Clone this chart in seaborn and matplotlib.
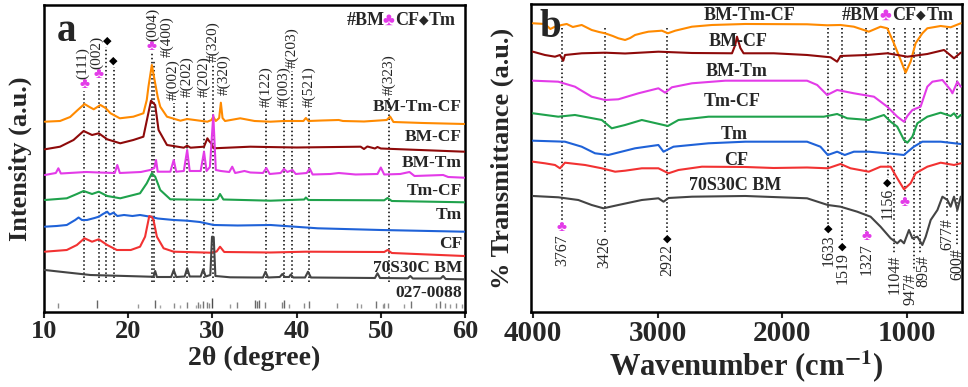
import pandas as pd
import seaborn as sns
import matplotlib.pyplot as plt

### XRD data (panel a), intensities are stacked a.u.
tt_bmtmcf = [10.1, 11.9, 13.1, 14.0, 14.8, 15.4, 15.9, 16.7, 17.3, 17.9, 19.0, 20.6, 21.8, 22.2, 22.4, 22.8,
             23.2, 23.5, 23.8, 24.6, 26.2, 27.0, 29.4, 29.9, 30.1, 30.4, 30.8, 31.0, 31.2, 31.5, 33.3, 35.0,
             36.9, 38.5, 40.8, 41.1, 41.4, 43.0, 45.0, 45.5, 48.0, 50.7, 51.1, 51.5, 55.0, 59.9]
i_bmtmcf = [190.3, 191, 195, 202, 208, 205, 202.7, 207, 204, 198.7, 193.7, 195.3, 198.7, 212, 225.3, 247,
            228.7, 215, 205.3, 195.3, 191.3, 193, 190.3, 192, 195.3, 191, 194, 209.3, 194, 191, 193.7, 191,
            190.3, 191, 191, 194, 191, 191.5, 192, 191, 190.5, 192, 195.5, 190, 189, 188]

tt_bmcf = [10.1, 11.9, 13.5, 14.7, 15.7, 16.5, 17.5, 19.05, 20.6, 21.8, 22.3, 22.7, 23.2, 23.6, 24.6, 26.6,
           27.0, 27.4, 29.0, 29.4, 29.6, 29.85, 30.15, 34.5, 36.4, 40.0, 47.6, 48.0, 48.4, 49.3, 49.6, 50.0, 59.9]
i_bmcf = [162.7, 165.3, 172, 181, 177, 178.7, 172.7, 168.7, 172, 175.3, 195.3, 211.3, 207, 182, 167, 164.3,
          166.3, 164.3, 165.3, 173.7, 171, 168.7, 163.7, 165.3, 165, 164.5, 165.3, 163, 165.5, 163.5, 165, 163.5, 160.3]

tt_bmtm = [10.1, 11.4, 11.7, 12.0, 13.0, 15.0, 16.5, 18.4, 18.7, 19.0, 21.5, 22.6, 23.1, 23.3, 23.5, 25.0,
           25.4, 25.7, 26.6, 27.0, 27.3, 28.6, 29.0, 29.3, 29.7, 30.1, 30.4, 31.0, 32.0, 32.35, 32.7, 33.8,
           34.5, 36.0, 36.4, 36.8, 38.1, 38.5, 38.9, 39.5, 39.9, 41.2, 41.55, 41.9, 44.0, 45.0, 47.0, 49.6,
           50.0, 50.4, 52.3, 53.4, 54.0, 57.4, 58.0, 59.9]
i_bmtm = [137, 139, 143.7, 138.5, 139, 140, 139.5, 139, 147, 139, 140, 142, 144, 152, 140.3, 140.3,
          152, 140.3, 141, 162, 141, 141, 160.3, 141, 145, 197, 142, 141, 140, 145.3, 139, 141,
          139.5, 139, 144, 138, 139, 143, 140, 142, 138, 139, 143.5, 137.5, 138, 139, 137.5, 138,
          144.5, 137.5, 138, 140, 136, 137, 135, 134.3]

tt_tmcf = [10.1, 12.7, 13.9, 14.7, 15.7, 16.5, 17.5, 19.05, 21.4, 22.2, 22.8, 23.2, 23.8, 25.0, 30.15, 30.6,
           30.9, 31.3, 36.9, 40.9, 41.1, 41.4, 50.4, 50.8, 51.3, 59.9]
i_tmcf = [112, 113.7, 118, 121, 118, 120.3, 116, 113.7, 118.7, 128.7, 138.7, 135.3, 122, 112.7, 112, 113,
          118, 112.5, 111.3, 112.5, 114.5, 112, 111.7, 114, 111, 109.7]

tt_tm = [10.1, 11.5, 12.7, 13.7, 14.1, 14.5, 15.1, 16.0, 16.5, 17.0, 17.5, 17.8, 18.25, 18.7, 19.5, 20.5,
         21.4, 22.6, 23.5, 25.4, 27.0, 28.5, 30.15, 33.0, 36.9, 42.5, 50.0, 59.9]
i_tm = [85.3, 86, 87, 92, 94.5, 92, 92, 94, 95.3, 98, 100.3, 97.5, 99.3, 96, 97, 96,
        97, 95.3, 93.5, 92, 91.3, 90, 87, 86.5, 87, 83.7, 82, 80.3]

tt_cf = [10.1, 12.7, 13.9, 14.8, 15.7, 16.5, 17.5, 18.65, 20.3, 21.4, 22.0, 22.5, 22.8, 23.0, 23.4, 24.2,
         25.4, 29.8, 30.5, 30.9, 31.4, 36.9, 41.1, 50.4, 50.8, 51.3, 59.9]
i_cf = [60.3, 62, 67, 73.7, 70.3, 72.7, 67, 62, 62, 65.3, 75.3, 96, 95, 92, 75.3, 63.7,
        60.3, 59.3, 60.5, 65.3, 60, 59.5, 60.3, 60, 62, 59, 56]

tt_bm = [10.1, 11.9, 15.5, 22.6, 23.0, 23.2, 23.4, 25.1, 25.4, 25.7, 26.7, 27.0, 27.3, 28.6, 28.9, 29.2,
         29.75, 29.95, 30.15, 30.35, 32.1, 35.0, 36.0, 36.3, 36.6, 38.0, 38.3, 38.6, 39.1, 39.3, 39.6, 41.0,
         41.35, 41.7, 49.3, 49.6, 49.9, 53.2, 53.5, 53.8, 57.1, 57.4, 57.7, 59.9]
i_bm = [42, 40.3, 37, 35.3, 35.5, 41, 35, 35, 42, 35, 35.5, 43.7, 35.5, 35.5, 42.7, 35.5,
        37, 75.3, 75, 36, 34.7, 34.5, 34.5, 40.3, 34.5, 35, 38, 35, 35, 37.5, 34.5, 34.5,
        40.3, 34.5, 34, 38.7, 34, 33.7, 36, 33.5, 33.5, 36, 33, 32.7]

# PDF 027-0088 reference lines
ref_pos = [11.6, 16.3, 21.2, 23.2, 23.8, 25.4, 26.2, 27.0, 28.0, 28.3, 28.5, 28.9, 29.3, 29.6, 30.0, 32.1,
           32.9, 35.1, 35.3, 35.5, 36.3, 38.3, 38.5, 39.1, 40.9, 41.5, 44.8, 47.2, 47.6, 49.4, 50.2, 50.4,
           50.8, 52.8, 53.6, 56.5, 57.0, 57.6, 58.2, 58.9, 59.6]
ref_int = [0.5, 0.8, 0.4, 0.8, 0.3, 0.5, 0.3, 0.6, 0.3, 0.6, 0.4, 0.7, 0.6, 0.5, 1.0, 0.4,
           0.6, 0.8, 0.7, 0.8, 0.6, 0.6, 0.8, 0.4, 0.5, 0.7, 0.5, 0.5, 0.4, 0.7, 0.4, 0.5,
           0.5, 0.4, 0.7, 0.5, 0.7, 0.5, 0.4, 0.5, 0.4]

# XRD peak assignments (y: marker centre for CF/Tm, label bottom for BM)
xrd_peak_pos = [14.8, 16.5, 17.4, 18.25, 22.8, 23.1, 25.4, 27.0, 29.0, 30.1, 31.1, 36.4, 38.5, 39.5, 41.5, 51.0]
xrd_peak_labx = [14.6, 16.2, 17.5, 18.25, 22.9, 24.6, 25.3, 27.0, 29.0, 30.1, 31.4, 36.4, 38.5, 39.5, 41.5, 51.0]
xrd_peak_phase = ['CF', 'CF', 'Tm', 'Tm', 'CF', 'BM', 'BM', 'BM', 'BM', 'BM', 'BM', 'BM', 'BM', 'BM', 'BM', 'BM']
xrd_peak_hkl = ['(111)', '(002)', '', '', '(004)', '(400)', '(002)', '(202)', '(202)', '(320)', '(320)',
                '(122)', '(003)', '(203)', '(521)', '(323)']
xrd_peak_y = [227, 237, 271, 251, 265, 255, 212, 215, 215, 250, 217, 205, 205, 244, 205, 217]
xrd_peak_line = [1, 1, 1, 1, 1, 1, 1, 1, 1, 1, 0, 1, 1, 1, 1, 1]

### FTIR data (panel b)
wn_bmtmcf = [4000, 3904, 3860, 3823, 3769, 3729, 3680, 3609, 3529, 3470, 3422, 3360, 3315, 3261, 3220, 3181,
             3120, 3074, 2966, 2918, 2859, 2725, 2565, 2297, 1802, 1641, 1534, 1427, 1307, 1213, 1159, 1106,
             1052, 1012, 972, 932, 878, 838, 731, 651, 570]
t_bmtmcf = [288.7, 288, 283, 285.3, 287, 288, 285, 287, 282, 280, 278.7, 276, 273.7, 272, 274, 277,
            279, 280.3, 281.3, 278.7, 281.3, 285.3, 287, 288, 287.7, 286.7, 287, 285.3, 280.3, 285.3, 283.7, 268.7,
            252, 239.3, 250.3, 268.7, 278.7, 283.7, 286, 284.7, 288.7]

wn_bmcf = [4000, 3904, 3823, 3783, 3757, 3743, 3609, 3422, 3261, 2994, 2725, 2404, 2378, 2364, 2337, 2311,
           2070, 1802, 1614, 1561, 1534, 1320, 1159, 998, 838, 704, 624, 570]
t_bmcf = [260.3, 257, 255.3, 257, 251.3, 257, 258.7, 259.3, 258.5, 260.3, 259, 258.7, 267, 275.3, 264, 258.7,
          258.7, 257, 254.7, 250.3, 256, 257, 258.7, 255.3, 258, 262, 253.7, 259.3]

wn_bmtm = [4000, 3797, 3663, 3529, 3422, 3315, 3154, 2994, 2940, 2886, 2725, 2458, 2337, 1802, 1721, 1641,
           1561, 1427, 1266, 1159, 1079, 1025, 998, 958, 892, 838, 797, 717, 651, 637, 597, 570]
t_bmtm = [231.3, 230.3, 225.3, 215.3, 212, 212.7, 218.7, 223.7, 219.3, 224.7, 228.7, 231.3, 231.3, 231.3, 227, 217,
          222, 218.7, 215.3, 205.3, 195.3, 190.3, 196, 202, 205.3, 225.3, 230.3, 232, 222, 218.7, 230.3, 225.3]

wn_tmcf = [4000, 3797, 3663, 3448, 3368, 3261, 3127, 2918, 2833, 2592, 2297, 1668, 1561, 1480, 1307, 1186,
           1132, 1079, 1025, 998, 958, 918, 838, 731, 651, 624, 597, 570]
t_tmcf = [198.7, 195.3, 197, 192, 183.7, 187, 192, 186, 192, 195.3, 195.3, 195.3, 198, 193.7, 192, 197,
          190.3, 185.3, 172, 169.3, 175.3, 188.7, 195.3, 199.3, 196, 198.7, 194, 197]

wn_tm = [4000, 3743, 3609, 3502, 3395, 3181, 2994, 2953, 2873, 2592, 2297, 1802, 1695, 1636, 1561, 1500,
         1427, 1307, 1159, 1025, 998, 946, 878, 731, 570]
t_tm = [171.3, 170.3, 165.3, 158.7, 157, 163.7, 167, 160.3, 165.3, 168.7, 170.3, 170.3, 165.3, 157, 160.3, 157,
        160.3, 160.3, 158.7, 157, 160, 165.3, 170.3, 170.3, 168]

wn_cf = [4000, 3904, 3823, 3783, 3743, 3582, 3448, 3341, 3261, 3127, 2994, 2913, 2833, 2645, 2297, 2070,
         1802, 1636, 1534, 1454, 1307, 1213, 1132, 1079, 1025, 972, 932, 838, 731, 624, 570]
t_cf = [150.3, 148.7, 147, 143.7, 149.3, 147, 143.7, 140.3, 141.3, 143.7, 143.7, 138.7, 142, 145.3, 145, 144,
        144.5, 143.7, 148, 143.7, 140.3, 145.3, 145.3, 133.7, 122.7, 128.7, 138.7, 145.3, 149.3, 147, 148.7]

wn_bm = [4000, 3797, 3636, 3529, 3435, 3315, 3127, 2994, 2953, 2913, 2725, 2297, 1802, 1636, 1534, 1400,
         1293, 1213, 1132, 1079, 1052, 1025, 985, 958, 918, 878, 851, 811, 757, 717, 677, 651, 624, 597, 570]
t_bm = [116, 114.7, 112, 107, 103.7, 107, 112, 113.7, 110.3, 114, 115.3, 116, 113.7, 107, 105.3, 100.3,
        95.3, 85.3, 73.7, 68.7, 72, 68.7, 82, 73.7, 75.3, 67, 75.3, 92, 102, 115.3, 112, 105.3, 115.3, 102, 115.3]

# FTIR band assignments (y: marker centre for CF/Tm, label top otherwise)
ftir_band_wn = [3767, 3426, 2922, 1633, 1519, 1327, 1156, 1104, 947, 895, 677, 600, 1020]
ftir_band_labx = [3767, 3426, 2922, 1633, 1519, 1327, 1156, 1104, 972, 868, 677, 600, 1020]
ftir_band_phase = ['CF', '', 'Tm', 'Tm', 'Tm', 'CF', 'Tm', 'BM', 'BM', 'BM', 'BM', 'BM', 'CF']
ftir_band_text = ['3767', '3426', '2922', '1633', '1519', '1327', '1156', '1104', '947', '895', '677', '600', '']
ftir_band_y = [84, 76, 73, 83, 65, 75, 129, 57, 39, 57, 94, 64, 109]

samples = ['BM-Tm-CF', 'BM-CF', 'BM-Tm', 'Tm-CF', 'Tm', 'CF', '70S30C BM']
palette = {'BM-Tm-CF': '#FF8A00', 'BM-CF': '#8E0A0A', 'BM-Tm': '#E33BE8', 'Tm-CF': '#1FA24C',
           'Tm': '#1F62D8', 'CF': '#F23232', '70S30C BM': '#444444'}
club_col = '#E33BE8'

xrd = pd.concat([pd.DataFrame({'theta': x, 'I': y, 'sample': s}) for s, x, y in zip(
    samples, [tt_bmtmcf, tt_bmcf, tt_bmtm, tt_tmcf, tt_tm, tt_cf, tt_bm],
    [i_bmtmcf, i_bmcf, i_bmtm, i_tmcf, i_tm, i_cf, i_bm])])
ftir = pd.concat([pd.DataFrame({'wn': x, 'T': y, 'sample': s}) for s, x, y in zip(
    samples, [wn_bmtmcf, wn_bmcf, wn_bmtm, wn_tmcf, wn_tm, wn_cf, wn_bm],
    [t_bmtmcf, t_bmcf, t_bmtm, t_tmcf, t_tm, t_cf, t_bm])])

sns.set_style('ticks')
plt.rcParams['font.family'] = ['Liberation Serif', 'DejaVu Sans']
plt.rcParams['font.weight'] = 'bold'
plt.rcParams['axes.labelweight'] = 'bold'
plt.rcParams['mathtext.fontset'] = 'stix'

fig = plt.figure(figsize=(9.68, 3.87), dpi=100)
ax1 = fig.add_axes([0.0455, 0.1938, 0.4349, 0.7933])
ax2 = fig.add_axes([0.5486, 0.1938, 0.4452, 0.7959])

# ---- panel a
sns.lineplot(data=xrd, x='theta', y='I', hue='sample', palette=palette, estimator=None, sort=False,
             lw=1.5, legend=False, ax=ax1, zorder=3)
ax1.vlines(ref_pos, 4, [4 + 10 * v for v in ref_int], colors=[str(0.8 - 0.5 * v) for v in ref_int], lw=1.0)

for x, lx, ph, hkl, y, ln in zip(xrd_peak_pos, xrd_peak_labx, xrd_peak_phase, xrd_peak_hkl, xrd_peak_y, xrd_peak_line):
    if ln:
        top = y - 6 if ph in ('CF', 'Tm') else y - 3
        ax1.plot([x, x], [30, top], ls=':', color='k', lw=1.1, zorder=2)
    if ph == 'CF':
        ax1.text(x, y, '\u2663', color=club_col, ha='center', va='center', fontsize=11)
        ax1.text(lx, y + 6, hkl, rotation=90, ha='center', va='bottom', fontsize=11, fontweight='normal')
    elif ph == 'Tm':
        ax1.text(lx, y, '\u25c6', color='k', ha='center', va='center', fontsize=8)
    else:
        ax1.text(lx, y, '#' + hkl, rotation=90, ha='center', va='bottom', fontsize=11, fontweight='normal')

lab_y_a = [0.669, 0.571, 0.484, 0.395, 0.316, 0.221, 0.142]
for s, yy in zip(samples, lab_y_a):
    ax1.text(0.993, yy, s, transform=ax1.transAxes, ha='right', va='center', fontsize=12.5)
ax1.text(0.993, 0.063, '027-0088', transform=ax1.transAxes, ha='right', va='center', fontsize=12.5)

ax1.set_xlim(10, 60)
ax1.set_ylim(0, 307)
ax1.set_xticks([10, 20, 30, 40, 50, 60])
ax1.set_yticks([])
ax1.set_xlabel('2\u03b8 (degree)', fontsize=20, labelpad=2)
ax1.set_ylabel('Intensity (a.u.)', fontsize=19, labelpad=9)
ax1.text(0.03, 0.975, 'a', transform=ax1.transAxes, ha='left', va='top', fontsize=28)
ax1.tick_params(axis='x', labelsize=19)

# ---- panel b
sns.lineplot(data=ftir, x='wn', y='T', hue='sample', palette=palette, estimator=None, sort=False,
             lw=1.5, legend=False, ax=ax2, zorder=3)
for x, lx, ph, txt, y in zip(ftir_band_wn, ftir_band_labx, ftir_band_phase, ftir_band_text, ftir_band_y):
    label = txt
    if ph == 'CF':
        ax2.text(x, y, '\u2663', color=club_col, ha='center', va='center', fontsize=11)
        top, ty = y + 6, y - 6
    elif ph == 'Tm':
        ax2.text(x, y, '\u25c6', color='k', ha='center', va='center', fontsize=8)
        top, ty = y + 5, y - 5
    else:
        top, ty = y + 2, y
        if ph == 'BM':
            label = txt + '#'
    ax2.plot([x, x], [284, top], ls=':', color='k', lw=1.1, zorder=2)
    if label:
        ax2.text(lx, ty, label, rotation=90, ha='center', va='top', fontsize=11.5, fontweight='normal')

lab_x_b = [0.506, 0.481, 0.477, 0.466, 0.471, 0.476, 0.473]
lab_y_b = [0.964, 0.878, 0.780, 0.683, 0.575, 0.491, 0.412]
for s, xx, yy in zip(samples, lab_x_b, lab_y_b):
    ax2.text(xx, yy, s, transform=ax2.transAxes, ha='center', va='center', fontsize=13)

ax2.set_xlim(4015, 560)
ax2.set_ylim(0, 308)
ax2.set_xticks([4000, 3000, 2000, 1000])
ax2.set_yticks([])
ax2.set_xlabel(r'Wavenumber (cm$^{\mathbf{-1}}$)', fontsize=22, labelpad=1)
ax2.set_ylabel('% Transmittance (a.u.)', fontsize=19, labelpad=12)
ax2.text(0.02, 0.985, 'b', transform=ax2.transAxes, ha='left', va='top', fontsize=28)
ax2.tick_params(axis='x', labelsize=21)

# phase key in both panels
for ax, x0, y0 in [(ax1, 0.718, 0.951), (ax2, 0.722, 0.962)]:
    ax.text(x0, y0, '#BM', transform=ax.transAxes, ha='left', va='center', fontsize=13)
    ax.text(x0 + 0.100, y0, '\u2663', color=club_col, transform=ax.transAxes, ha='center', va='center', fontsize=13)
    ax.text(x0 + 0.117, y0, 'CF', transform=ax.transAxes, ha='left', va='center', fontsize=13)
    ax.text(x0 + 0.183, y0, '\u25c6', transform=ax.transAxes, ha='center', va='center', fontsize=9)
    ax.text(x0 + 0.195, y0, 'Tm', transform=ax.transAxes, ha='left', va='center', fontsize=13)

for ax in (ax1, ax2):
    for sp in ax.spines.values():
        sp.set_linewidth(1.8)
        sp.set_color('k')
    ax.tick_params(axis='x', direction='out', length=4, width=1.5, pad=2)

plt.savefig('out.png', dpi=100)
